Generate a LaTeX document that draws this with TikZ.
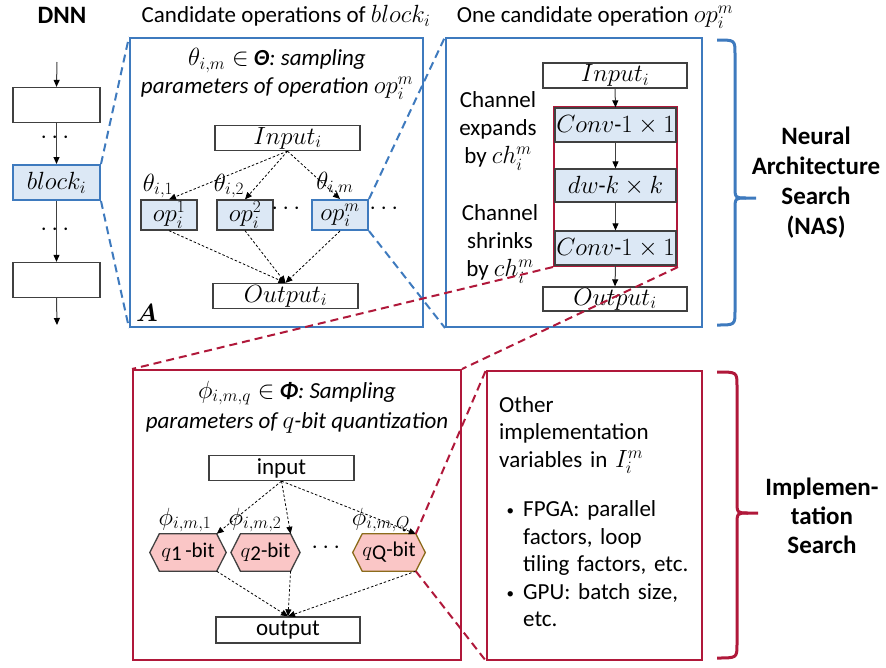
\documentclass[tikz,border=0pt]{standalone}
\usepackage{fontspec}
\setmainfont{Carlito}
\usepackage{amsmath}
\usetikzlibrary{arrows.meta,backgrounds}

\definecolor{nasblue}{RGB}{62,122,190}
\definecolor{opfill}{RGB}{220,232,245}
\definecolor{implred}{RGB}{176,24,58}
\definecolor{qfill}{RGB}{250,198,198}
\definecolor{qedge}{RGB}{140,108,28}
\definecolor{boxgray}{RGB}{64,64,64}

\tikzset{
  txt/.style={font=\fontsize{23pt}{28pt}\selectfont, inner sep=0pt},
  hd/.style={font=\fontsize{25pt}{30pt}\selectfont\bfseries, inner sep=0pt, align=center},
  plainbox/.style={draw=boxgray, line width=1.3pt, inner sep=0pt, txt},
  dnnbox/.style={plainbox, minimum width=87pt, minimum height=35pt},
  iobox/.style={plainbox, minimum width=145pt, minimum height=25pt},
  opbox/.style={plainbox, fill=opfill, minimum width=56pt, minimum height=30pt},
  layerbox/.style={plainbox, fill=opfill, minimum width=121pt, minimum height=34pt},
  bigbox/.style={line width=2pt, inner sep=0pt},
  hexlabel/.style={inner sep=0pt, minimum height=37pt, font=\fontsize{21pt}{25pt}\selectfont},
  hexedge/.style={fill=qfill, line width=1.3pt},
  flow/.style={draw=boxgray, line width=1pt, -{Triangle[length=7pt,width=6pt,color=black]}},
  choice/.style={black, line width=0.8pt, dash pattern=on 2.5pt off 2pt, -{Triangle[length=7pt,width=6pt]}},
  zoomblue/.style={nasblue, line width=2pt, dash pattern=on 8pt off 5pt},
  zoomred/.style={implred, line width=2pt, dash pattern=on 8pt off 5pt},
  bracket/.style={line width=3pt, line join=round},
}

% hexagonal quantisation node: name, centre, top-edge width, border colour, label
\newcommand\quantnode[5]{%
  \node[hexlabel, minimum width=#3] (#1) at (#2) {#5};
  \begin{pgfonlayer}{background}
    \draw[hexedge, draw=#4] (#1.north west) -- (#1.north east) -- ([xshift=9.5pt]#1.east)
      -- (#1.south east) -- (#1.south west) -- ([xshift=-9.5pt]#1.west) -- cycle;
  \end{pgfonlayer}}

% small list bullet
\newcommand\listdot{\llap{{\fontsize{15pt}{15pt}\selectfont\raisebox{0.15ex}{\textbullet}}\hspace{9pt}}}

\begin{document}
\begin{tikzpicture}[x=1pt, y=-1pt]
\useasboundingbox (0,0) rectangle (886,667);

% ---------- headings ----------
\node[hd] (dnnhd) at (62,15) {DNN};
\node[txt] (candhd) at (286,16) {Candidate operations of $block_i$};
\node[txt] (onehd) at (595,17) {One candidate operation $op_i^m$};

% ---------- DNN column ----------
\coordinate (dnntop) at (57,62);
\coordinate (dnnbot) at (57,325);
\node[dnnbox] (layer1) at (56.5,105) {};
\node[dnnbox, fill=opfill, draw=nasblue, line width=2pt] (blk) at (56.5,182.5) {$block_i$};
\node[dnnbox] (layer3) at (56.5,280) {};
\draw[flow] (dnntop) -- (layer1.north);
\draw[flow] (layer1.south) -- (blk.north);
\draw[flow] (blk.south) -- (layer3.north);
\draw[flow] (layer3.south) -- (dnnbot);
\node[txt] (dotsa) at (57,138) {$\cdots$};
\node[txt] (dotsb) at (57,230) {$\cdots$};

% ---------- candidate operations (box A) ----------
\node[bigbox, draw=nasblue, minimum width=293pt, minimum height=289pt] (boxA) at (276.5,182.5) {};
\node[txt, align=center, font=\fontsize{23pt}{28pt}\selectfont\itshape] (thetxt) at (277,74)
  {$\theta_{i,m}\in$ \textbf{Θ}: sampling\\parameters of operation $op_i^m$};
\node[iobox] (inA) at (287.5,138) {$Input_i$};
\node[opbox] (op1) at (169,215) {$op_i^1$};
\node[opbox] (op2) at (245,215) {$op_i^2$};
\node[opbox, draw=nasblue, line width=2pt] (opm) at (340,215) {$op_i^m$};
\node[iobox] (outA) at (285.5,296) {$Output_i$};
\node[txt] (th1) at (158,186) {$\theta_{i,1}$};
\node[txt] (th2) at (229,186) {$\theta_{i,2}$};
\node[txt] (thm) at (335,184) {$\theta_{i,m}$};
\node[txt] (dotsc) at (288,209) {$\cdots$};
\node[txt] (dotsd) at (386,209) {$\cdots$};
\node[txt] (labA) at (147,313) {$\boldsymbol{A}$};
\foreach \o in {op1,op2,opm} {
  \draw[choice] (inA.south) -- (\o.north);
  \draw[choice] (\o.south) -- (outA.north);
}

% ---------- one candidate operation (box B) ----------
\node[bigbox, draw=nasblue, minimum width=256pt, minimum height=289pt] (boxB) at (574,182.5) {};
\node[iobox, minimum width=144pt] (inB) at (615,75.5) {$Input_i$};
\node[draw=implred, line width=2pt, minimum width=123pt, minimum height=159pt, inner sep=0pt] (redgrp) at (615.5,186.5) {};
\node[layerbox] (conv1) at (615.5,125) {$Conv$-$1\times 1$};
\node[layerbox, minimum height=33pt] (dw) at (615.5,185.5) {$dw$-$k\times k$};
\node[layerbox] (conv2) at (615.5,248) {$Conv$-$1\times 1$};
\node[iobox, minimum width=144pt, minimum height=24pt] (outB) at (615,299) {$Output_i$};
\draw[flow] (inB.south) -- (conv1.north);
\draw[flow] (conv1.south) -- (dw.north);
\draw[flow] (dw.south) -- (conv2.north);
\draw[flow] (conv2.south) -- (outB.north);
\node[txt, align=center] (expand) at (498,131) {Channel\\expands\\by $ch_i^m$};
\node[txt, align=center] (shrink) at (500,244) {Channel\\shrinks\\by $ch_i^m$};

% ---------- quantisation (box C) ----------
\node[bigbox, draw=implred, minimum width=328pt, minimum height=290pt] (boxC) at (297,515) {};
\node[txt, align=center, font=\fontsize{23pt}{30pt}\selectfont\itshape] (phitxt) at (297,407)
  {$\phi_{i,m,q}\in$ \textbf{Φ}: Sampling\\parameters of $q$-bit quantization};
\node[iobox] (inC) at (281.5,468) {input};
\quantnode{q1}{188,552.5}{57pt}{boxgray}{$q$\raisebox{-0.3ex}{1}\,-bit}
\quantnode{q2}{265.5,552.5}{46pt}{boxgray}{$q$\raisebox{-0.3ex}{2}-bit}
\quantnode{qQ}{389,552.5}{47pt}{qedge}{$q$\raisebox{-0.3ex}{Q}-bit}
\node[iobox, minimum width=144pt, minimum height=26pt] (outC) at (288,630) {output};
\node[txt] (ph1) at (185,520) {$\phi_{i,m,1}$};
\node[txt] (ph2) at (255,520) {$\phi_{i,m,2}$};
\node[txt] (phQ) at (381,520) {$\phi_{i,m,Q}$};
\node[txt] (dotse) at (328,548) {$\cdots$};
\foreach \q in {q1,q2,qQ} {
  \draw[choice] (inC.south) -- (\q.north east);
  \draw[choice] (\q.south east) -- (outC.north);
}

% ---------- other implementation variables (box D) ----------
\node[bigbox, draw=implred, minimum width=215pt, minimum height=289pt] (boxD) at (594.5,515.5) {};
\node[anchor=north west, inner sep=0pt, text width=205pt, align=left,
      font=\fontsize{23pt}{27.5pt}\selectfont] (impltxt) at (499,396)
  {Other\\implementation\\variables in $I_i^m$\\[22pt]
   \hspace*{24pt}\listdot FPGA: parallel\\
   \hspace*{24pt}factors, loop\\
   \hspace*{24pt}tiling factors, etc.\\
   \hspace*{24pt}\listdot GPU: batch size,\\
   \hspace*{24pt}etc.};

% ---------- zoom lines ----------
\draw[zoomblue] (blk.north east) -- (boxA.north west);
\draw[zoomblue] (blk.south east) -- (boxA.south west);
\draw[zoomblue] (opm.north east) -- (boxB.north west);
\draw[zoomblue] (opm.south east) -- (boxB.south west);
\draw[zoomred] (redgrp.south west) -- (boxC.north west);
\draw[zoomred] (redgrp.south east) -- (boxC.north east);
\draw[zoomred] (qQ.north east) -- (boxD.north west);
\draw[zoomred] (qQ.south east) -- (boxD.south west);

% ---------- braces and search labels ----------
\draw[bracket, nasblue] (717,40) .. controls (735,40) .. (735,54) -- (735,186)
  .. controls (735,198) .. (746,198) -- (756,198);
\draw[bracket, nasblue] (746,198) .. controls (735,198) .. (735,210) -- (735,311)
  .. controls (735,325) .. (717,325);
\node[hd] (nas) at (816,183) {Neural\\Architecture\\Search\\(NAS)};

\draw[bracket, implred] (717,372) .. controls (737,372) .. (737,386) -- (737,501)
  .. controls (737,513) .. (748,513) -- (758,513);
\draw[bracket, implred] (748,513) .. controls (737,513) .. (737,525) -- (737,644)
  .. controls (737,658) .. (717,658);
\node[hd, font=\fontsize{25pt}{29pt}\selectfont\bfseries] (impl) at (822,516) {Implemen-\\tation\\Search};
\end{tikzpicture}
\end{document}
